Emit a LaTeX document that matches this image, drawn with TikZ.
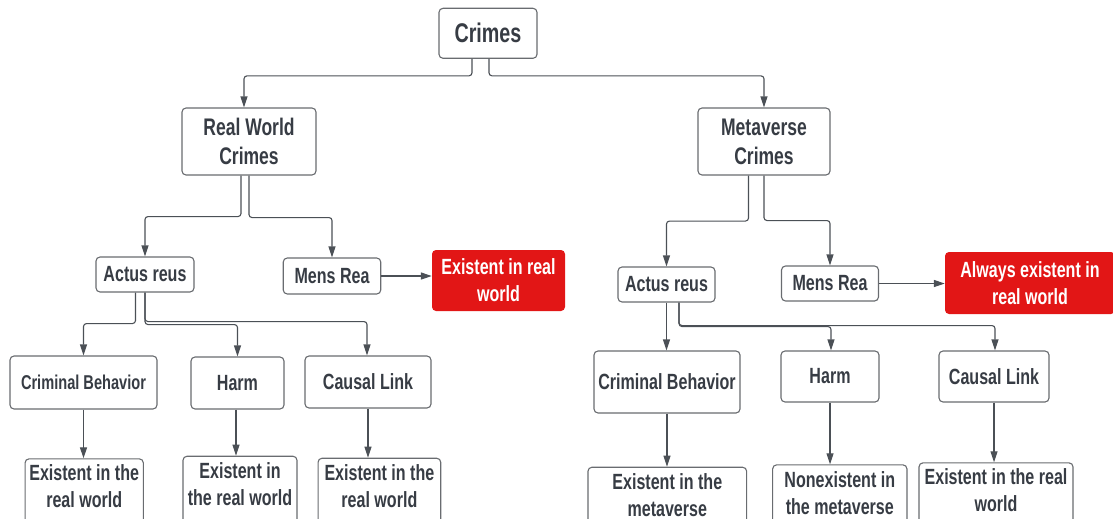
\documentclass[tikz,border=0pt]{standalone}
\usepackage{fontspec}
\setmainfont[FakeStretch=0.73]{Liberation Sans}
\usetikzlibrary{arrows.meta}
\definecolor{txtc}{RGB}{55,60,68}
\definecolor{brd}{RGB}{105,108,112}
\definecolor{lnc}{RGB}{75,80,86}
\definecolor{redb}{RGB}{226,22,22}
\begin{document}
\begin{tikzpicture}[x=1pt,y=-1pt,
  box/.style={draw=brd,line width=1.1pt,rounded corners=4pt,fill=white,align=center,text=txtc,inner sep=0pt,font=\bfseries\fontsize{22}{27}\selectfont},
  redbox/.style={fill=redb,rounded corners=4pt,align=center,text=white,inner sep=0pt,font=\bfseries\fontsize{22}{27}\selectfont},
  txt/.style={align=center,text=txtc,inner sep=0pt,font=\bfseries\fontsize{22}{27}\selectfont},
  conn/.style={draw=lnc,line width=1.1pt,rounded corners=3pt,-{Triangle[length=11pt,width=7pt]}},
]
\useasboundingbox (0,0) rectangle (1113,519);
\clip (0,0) rectangle (1113,519);
% top
\node[box,minimum width=98pt,minimum height=50pt,font=\bfseries\fontsize{27}{32}\selectfont] (crimes) at (488,33.3) {Crimes};
\node[box,minimum width=134pt,minimum height=67pt,font=\bfseries\fontsize{24}{29}\selectfont] (rw) at (249,141.5) {Real World\\Crimes};
\node[box,minimum width=132pt,minimum height=67pt,font=\bfseries\fontsize{24}{29}\selectfont] (mv) at (764,141.5) {Metaverse\\Crimes};
% second level
\node[box,minimum width=98pt,minimum height=35pt] (ar1) at (145,274.5) {Actus reus};
\node[box,minimum width=97.5pt,minimum height=36pt] (mr1) at (332,276) {Mens Rea};
\node[redbox,minimum width=133pt,minimum height=61pt] (red1) at (498.5,280.5) {Existent in real\\world};
\node[box,minimum width=97pt,minimum height=35pt] (ar2) at (666.5,284.5) {Actus reus};
\node[box,minimum width=97pt,minimum height=35pt] (mr2) at (830,283.5) {Mens Rea};
\node[redbox,minimum width=170pt,minimum height=62pt] (red2) at (1030,283) {Always existent in\\real world};
% third level
\node[box,minimum width=147pt,minimum height=53pt,font=\bfseries\fontsize{20}{24}\selectfont] (cb1) at (83.5,382.5) {Criminal Behavior};
\node[box,minimum width=93pt,minimum height=52pt] (h1) at (237.5,383) {Harm};
\node[box,minimum width=126pt,minimum height=52pt] (cl1) at (368,382) {Causal Link};
\node[box,minimum width=146pt,minimum height=62pt] (cb2) at (667,382) {Criminal Behavior};
\node[box,minimum width=98pt,minimum height=51pt] (h2) at (830,376.5) {Harm};
\node[box,minimum width=110pt,minimum height=51pt] (cl2) at (994,376.5) {Causal Link};
% bottom level (cut off by the page edge)
\node[box,anchor=north,minimum width=118.3pt,minimum height=80pt] (e1) at (84.2,458.3) {};
\node[txt] (e1t) at (84.2,486.5) {Existent in the\\real world};
\node[box,anchor=north,minimum width=114pt,minimum height=80pt] (e2) at (240,455.7) {};
\node[txt] (e2t) at (240,484.3) {Existent in\\the real world};
\node[box,anchor=north,minimum width=122.7pt,minimum height=80pt] (e3) at (379.4,457.7) {};
\node[txt] (e3t) at (379.4,486.5) {Existent in the\\real world};
\node[box,anchor=north,minimum width=158.7pt,minimum height=80pt] (e4) at (667.3,466.7) {};
\node[txt] (e4t) at (667.3,494.8) {Existent in the\\metaverse};
\node[box,anchor=north,minimum width=134.3pt,minimum height=80pt] (e5) at (839.8,464.3) {};
\node[txt] (e5t) at (839.8,492.8) {Nonexistent in\\the metaverse};
\node[box,anchor=north,minimum width=154pt,minimum height=80pt] (e6) at (996,462.3) {};
\node[txt] (e6t) at (996,490) {Existent in the real\\world};
% connectors
\draw[conn] ([xshift=-16pt]crimes.south) -- ++(0,17) -| ([xshift=-5pt]rw.north);
\draw[conn] ([xshift=1pt]crimes.south) -- ++(0,17) -| (mv.north);
\draw[conn] ([xshift=-8pt]rw.south) -- ++(0,41) -| (ar1.north);
\draw[conn] (rw.south) -- ++(0,42) -| (mr1.north);
\draw[conn] (mr1.east) -- (mr1.east -| red1.west);
\draw[conn] ([xshift=-15.5pt]mv.south) -- ++(0,45.5) -| (ar2.north);
\draw[conn] (mv.south) -- ++(0,45) -| (mr2.north);
\draw[conn] (mr2.east) -- (mr2.east -| red2.west);
\draw[conn] ([xshift=-9.5pt]ar1.south) -- ++(0,31) -| (cb1.north);
\draw[conn] (ar1.south) -- ++(0,32) -| (h1.north);
\draw[conn] (ar1.south) -- ++(0,29) -| ([xshift=-1pt]cl1.north);
\draw[conn] (cb1.south) -- ([xshift=-0.7pt]e1.north);
\draw[conn] ([xshift=-1.5pt]h1.south) -- ([xshift=-4pt]e2.north);
\draw[conn] (cl1.south) -- ([xshift=-11.4pt]e3.north);
\draw[conn] (ar2.south) -- ([xshift=-0.5pt]cb2.north);
\draw[conn] ([xshift=12.5pt]ar2.south) -- ++(0,24) -| ([xshift=1pt]h2.north);
\draw[conn] ([xshift=12.5pt]ar2.south) -- ++(0,23) -| ([xshift=1pt]cl2.north);
\draw[conn] (cb2.south) -- ([xshift=-0.3pt]e4.north);
\draw[conn] (h2.south) -- ([xshift=-9.8pt]e5.north);
\draw[conn] (cl2.south) -- ([xshift=-2pt]e6.north);
\end{tikzpicture}
\end{document}
